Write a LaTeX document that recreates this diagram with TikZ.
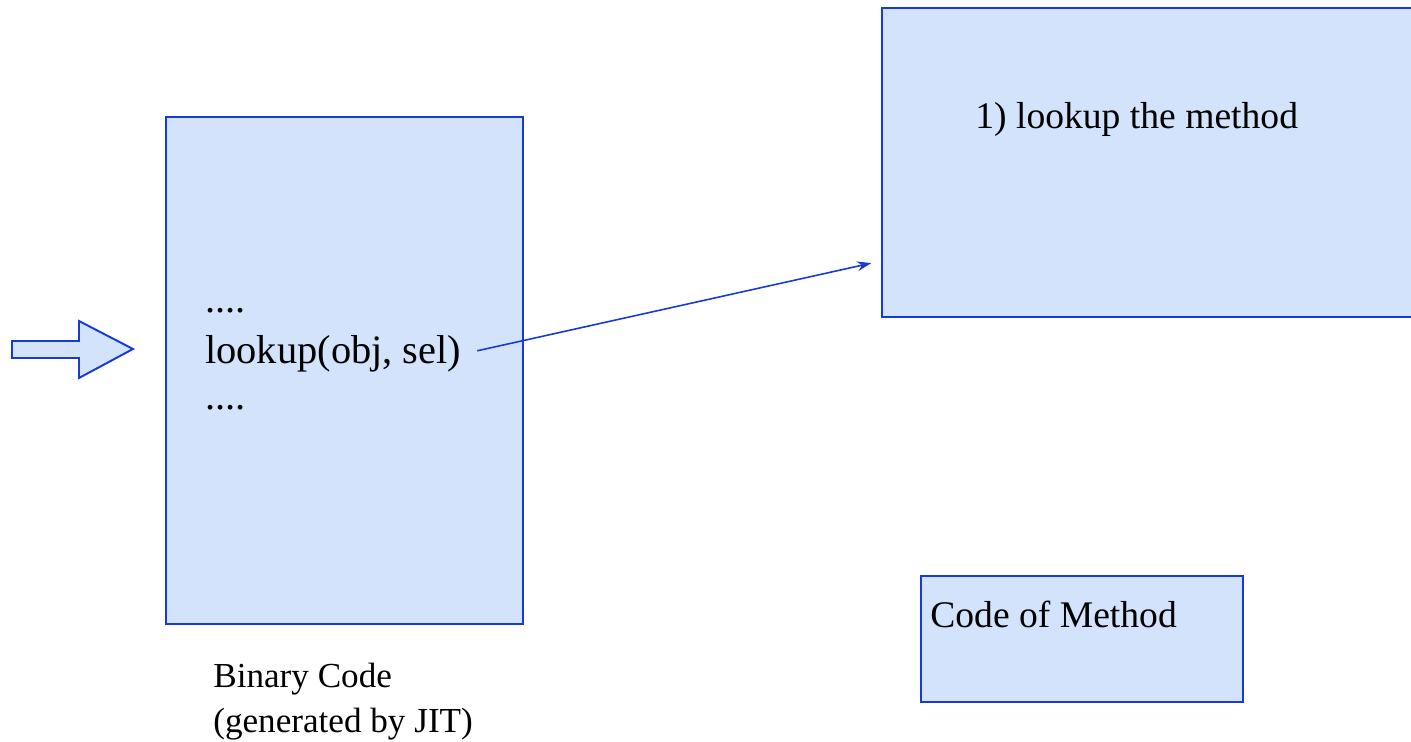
\documentclass[tikz,border=0pt]{standalone}
\usepackage{fontspec}
\setmainfont{Liberation Serif}
\usepackage{xcolor}
\usetikzlibrary{arrows.meta, positioning, calc}

\definecolor{boxfill}{RGB}{211,227,252}
\definecolor{boxline}{RGB}{22,58,214}

\begin{document}
\begin{tikzpicture}[x=0.02cm, y=-0.02cm,
    box/.style={draw=boxline, fill=boxfill, line width=1.1pt, inner sep=0pt},
    txt/.style={inner sep=0pt, anchor=base west, font=\fontsize{21.4}{25}\selectfont},
    code/.style={inner sep=0pt, anchor=base west, font=\fontsize{23}{28}\selectfont},
    conn/.style={-{Stealth[length=8pt,width=5.5pt]}, draw=boxline, line width=0.9pt}]
    \useasboundingbox (0,0) rectangle (1411,742);
    % input arrow
    \draw[box] (12,341) -- (79,341) -- (79,321) -- (133,349) -- (79,378) -- (79,358) -- (12,358) -- cycle;
    % binary code
    \node[box, anchor=north west, minimum width=7.14cm, minimum height=10.14cm] (bin) at (165,116) {};
    \node[code] (dotsA) at (205,313) {....};
    \node[code] (call) at (205,364) {lookup(obj, sel)};
    \node[code] (dotsB) at (205,410) {....};
    \node[txt, font=\fontsize{20}{24}\selectfont] (binA) at (213,688) {Binary Code};
    \node[txt, font=\fontsize{20}{24}\selectfont] (binB) at (213,733) {(generated by JIT)};
    % lookup routine
    \begin{scope}
        \clip (0,0) rectangle (1411,742);
        \node[box, anchor=north west, minimum width=10.8cm, minimum height=6.18cm] (lookup) at (881,7) {};
    \end{scope}
    \node[txt] (step1) at (975,129) {1) lookup the method};
    % method
    \node[box, anchor=north west, minimum width=6.44cm, minimum height=2.52cm] (meth) at (920,575) {};
    \node[txt] (methtxt) at (930,628) {Code of Method};
    \coordinate (hit) at (lookup.west |- 0,261);
    \draw[conn, shorten <=0.32cm, shorten >=0.2cm] (call.east) -- (hit);
\end{tikzpicture}
\end{document}
